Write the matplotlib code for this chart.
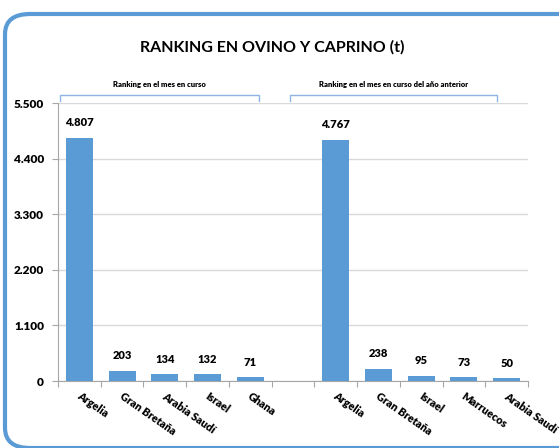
import matplotlib.pyplot as plt
from matplotlib.patches import FancyBboxPatch
from matplotlib.lines import Line2D

# Data
current_countries = ["Argelia", "Gran Bretaña", "Arabia Saudí", "Israel", "Ghana"]
current_values = [4807, 203, 134, 132, 71]
previous_countries = ["Argelia", "Gran Bretaña", "Israel", "Marruecos", "Arabia Saudí"]
previous_values = [4767, 238, 95, 73, 50]
y_ticks = [0, 1100, 2200, 3300, 4400, 5500]

title = "RANKING EN OVINO Y CAPRINO (t)"
group_labels = ["Ranking en el mes en curso", "Ranking en el mes en curso del año anterior"]

bar_color = "#5B9BD5"
frame_color = "#5B9BD5"
bracket_color = "#8DB4E2"

plt.rcParams['font.family'] = ['Lato', 'DejaVu Sans']
plt.rcParams['font.weight'] = 'bold'

W, H = 559, 448
fig = plt.figure(figsize=(W / 100, H / 100), dpi=100)

# Rounded frame around the chart (drawn behind the axes)
frame = FancyBboxPatch((5 / W, 0 / H), 600 / W, 434 / H,
                       boxstyle="round,pad=0,rounding_size=0.045",
                       transform=fig.transFigure, facecolor="none",
                       edgecolor=frame_color, linewidth=3, clip_on=False, zorder=-1)
fig.patches.append(frame)

ax = fig.add_axes([58 / W, 1 - 381 / H, (528 - 58) / W, (381 - 103) / H])
ax.set_facecolor("none")

# Bar positions: 5 bars, one blank slot, 5 bars
n = len(current_values)
pos_cur = list(range(n))
pos_prev = [n + 1 + i for i in range(len(previous_values))]
positions = pos_cur + pos_prev
values = current_values + previous_values
labels = current_countries + previous_countries

ax.bar(positions, values, width=0.63, color=bar_color, zorder=3)

for x, v in zip(positions, values):
    txt = f"{v:,}".replace(",", ".")
    ax.annotate(txt, (x, v), xytext=(0, 7), textcoords="offset points",
                ha="center", va="bottom", fontsize=8, fontweight="heavy")

ax.set_xlim(-0.5, 10.5)
ax.set_ylim(0, 5500)
ax.set_yticks(y_ticks)
ax.set_yticklabels([f"{t:,}".replace(",", ".") for t in y_ticks], fontsize=8.5, fontweight="heavy")
ax.yaxis.grid(True, color="#D9D9D9", linewidth=1, zorder=0)
ax.tick_params(axis="y", length=4, color="#A6A6A6", pad=6)

# x ticks at slot boundaries, labels drawn separately
ax.set_xticks([i - 0.5 for i in range(12)])
ax.set_xticklabels([])
ax.tick_params(axis="x", length=4, color="#A6A6A6", direction="out")

for x, lab in zip(positions, labels):
    ax.annotate(lab, (x, 0), xytext=(-1, -10), textcoords="offset points",
                rotation=-35, rotation_mode="anchor", ha="left", va="center",
                fontsize=7.8, fontweight="heavy", annotation_clip=False)

for side in ["top", "right"]:
    ax.spines[side].set_visible(False)
ax.spines["left"].set_color("#A6A6A6")
ax.spines["bottom"].set_color("#A6A6A6")

# Title
fig.text(272 / W, 1 - 47 / H, title, ha="center", va="center",
         fontsize=11.5, fontweight="bold")

# Group brackets with labels
brackets = [(60, 259, group_labels[0]), (290, 497, group_labels[1])]
for x0, x1, lab in brackets:
    yt, yb = 1 - 95 / H, 1 - 101 / H
    fig.lines.append(Line2D([x0 / W, x0 / W, x1 / W, x1 / W], [yb, yt, yt, yb],
                            transform=fig.transFigure, color=bracket_color, linewidth=1))
    fig.text((x0 + x1) / 2 / W, 1 - 84 / H, lab, ha="center", va="center",
             fontsize=5.5, fontweight="heavy")

fig.savefig("out.png", dpi=100)
